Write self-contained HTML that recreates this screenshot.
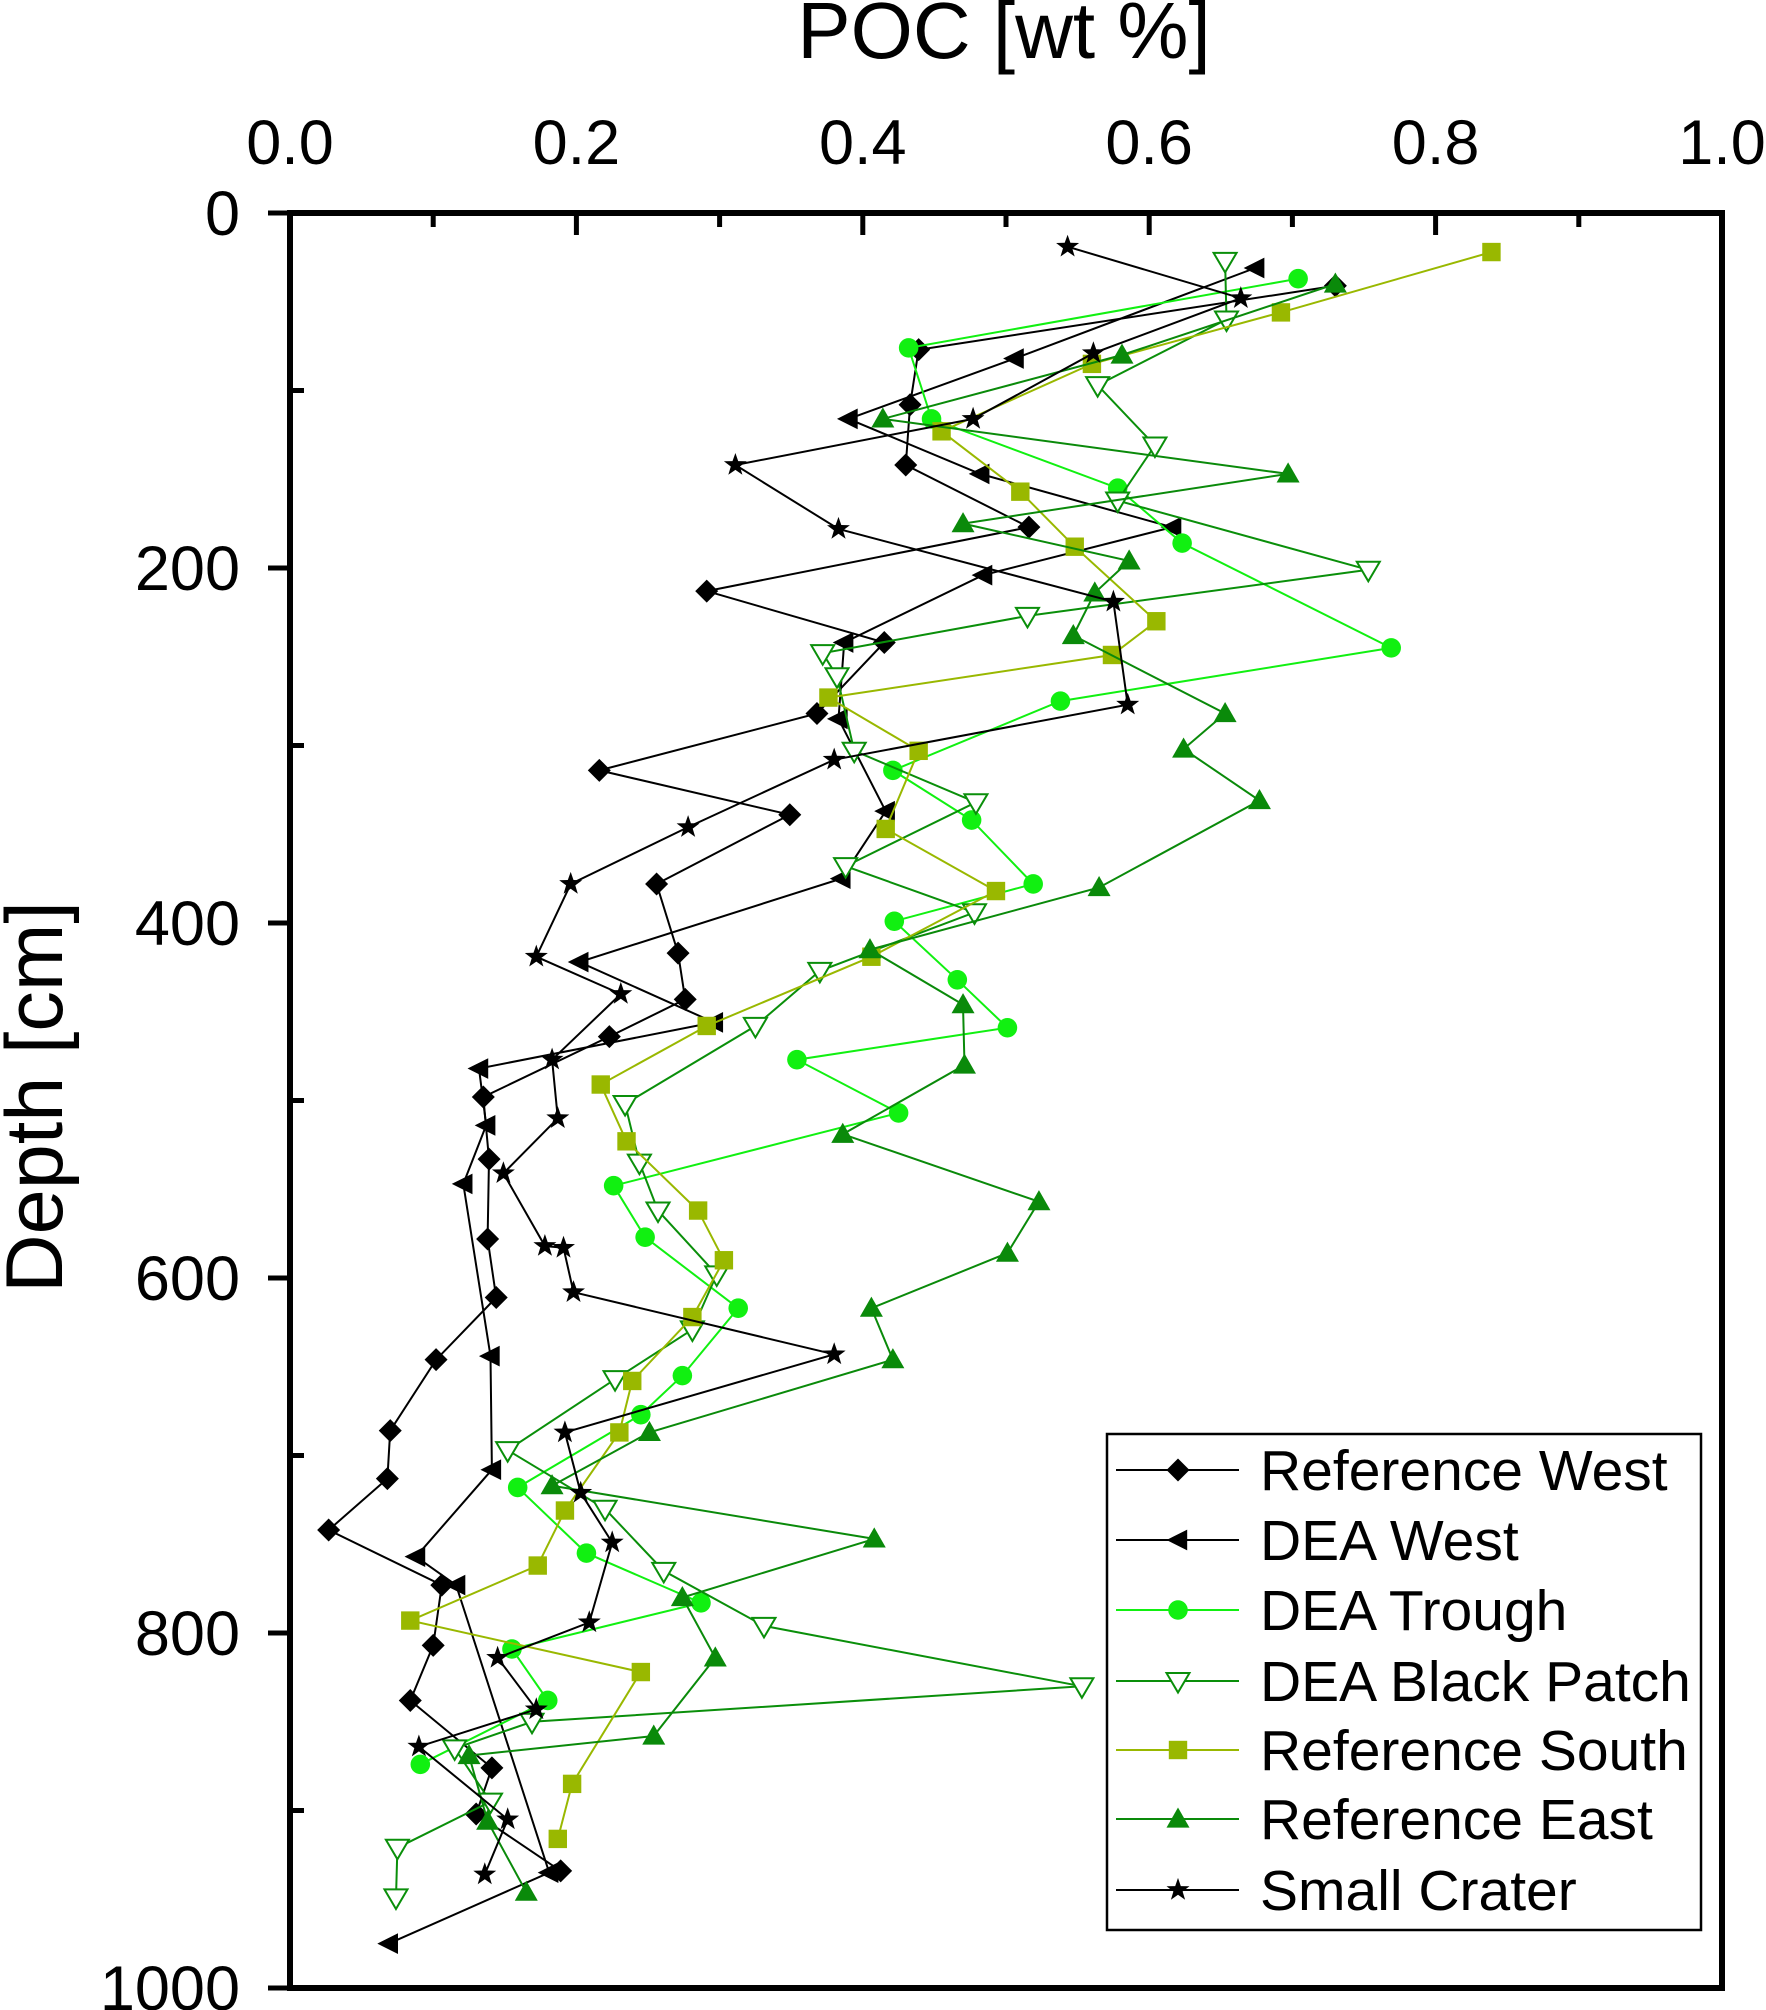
<!DOCTYPE html>
<html><head><meta charset="utf-8"><style>
html,body{margin:0;padding:0;background:#fff;}
svg{display:block;font-family:"Liberation Sans",Arial,sans-serif;}
</style></head><body>
<svg id="chart" width="1766" height="2010" viewBox="0 0 1766 2010" xmlns="http://www.w3.org/2000/svg">
<g id="axes"></g>
<g id="series"></g>
<g id="legend"></g>
<text x="1004" y="58" font-size="80" text-anchor="middle">POC [wt %]</text>
<text transform="translate(62,1097) rotate(-90)" font-size="81" text-anchor="middle">Depth [cm]</text>
</svg>
<script>
const xTicks=[0,0.2,0.4,0.6,0.8,1.0];
const xTickLabels=["0.0","0.2","0.4","0.6","0.8","1.0"];
const yTicks=[0,200,400,600,800,1000];
const yTickLabels=["0","200","400","600","800","1000"];
const seriesNames=["Reference West","DEA West","DEA Trough","DEA Black Patch","Reference South","Reference East","Small Crater"];
const refWestX=[0.730,0.439,0.433,0.430,0.516,0.291,0.415,0.368,0.216,0.349,0.256,0.271,0.276,0.223,0.135,0.139,0.138,0.144,0.102,0.070,0.068,0.027,0.106,0.100,0.084,0.141,0.130,0.189];
const refWestY=[41,77,108,142,177,213,242,282,314,339,378,417,443,464,498,533,578,611,646,686,713,742,773,807,838,876,902,934];
const deaWestX=[0.674,0.506,0.390,0.482,0.616,0.484,0.387,0.383,0.416,0.385,0.202,0.296,0.132,0.137,0.121,0.140,0.141,0.088,0.116,0.181,0.069];
const deaWestY=[31,82,116,147,177,204,242,285,337,375,422,456,482,514,547,644,708,757,773,935,975];
const troughX=[0.704,0.432,0.448,0.578,0.623,0.769,0.538,0.421,0.476,0.519,0.422,0.466,0.501,0.354,0.425,0.226,0.248,0.313,0.274,0.245,0.159,0.207,0.287,0.155,0.180,0.091];
const troughY=[37,76,116,155,186,245,275,314,342,378,399,432,459,477,507,548,577,617,655,677,718,755,783,809,838,874];
const blackPatchX=[0.653,0.654,0.564,0.604,0.578,0.753,0.515,0.372,0.382,0.394,0.479,0.388,0.478,0.370,0.325,0.234,0.244,0.257,0.298,0.281,0.227,0.152,0.220,0.261,0.331,0.553,0.169,0.115,0.140,0.075,0.074];
const blackPatchY=[27,60,97,131,162,201,227,248,261,303,332,368,394,427,458,502,535,562,598,629,657,697,730,765,796,830,850,865,895,921,949];
const refSouthX=[0.839,0.692,0.560,0.455,0.510,0.548,0.605,0.574,0.376,0.439,0.416,0.493,0.406,0.291,0.217,0.235,0.285,0.303,0.281,0.239,0.230,0.192,0.173,0.084,0.245,0.197,0.187];
const refSouthY=[22,56,85,123,157,188,230,249,273,303,347,382,419,458,491,523,562,590,622,658,687,731,762,793,822,885,916];
const refEastX=[0.730,0.581,0.414,0.697,0.470,0.586,0.562,0.547,0.653,0.624,0.677,0.565,0.405,0.470,0.471,0.386,0.523,0.501,0.406,0.421,0.251,0.183,0.408,0.274,0.297,0.254,0.125,0.138,0.165];
const refEastY=[40,80,116,147,175,196,214,238,282,302,331,380,415,446,480,519,557,586,617,646,687,717,747,780,814,858,869,906,946];
const craterX=[0.543,0.664,0.561,0.477,0.311,0.383,0.575,0.585,0.380,0.278,0.196,0.172,0.231,0.183,0.187,0.149,0.178,0.191,0.198,0.380,0.192,0.203,0.225,0.209,0.145,0.172,0.090,0.152,0.136];
const craterY=[19,48,79,116,142,178,219,277,308,346,378,419,440,477,510,541,582,583,608,643,687,721,749,794,814,843,864,905,936];

const L=290,R=1722,T=213,B=1988;
const xS=v=>L+v*(R-L);
const yS=v=>T+v/1000*(B-T);
const NS="http://www.w3.org/2000/svg";
function mk(tag,attrs,parent){const e=document.createElementNS(NS,tag);for(const k in attrs)e.setAttribute(k,attrs[k]);parent.appendChild(e);return e;}
const axes=document.getElementById('axes');
let box=mk('rect',{x:L,y:T,width:R-L,height:B-T,fill:'none',stroke:'#000','stroke-width':6},axes);


xTicks.forEach((v,i)=>{
  let t=mk('line',{x1:xS(v),x2:xS(v),y1:T,y2:T+22,stroke:'#000','stroke-width':5},axes);
  
  
  if(i<xTicks.length-1){let m=mk('line',{x1:xS(v+0.1),x2:xS(v+0.1),y1:T,y2:T+14,stroke:'#000','stroke-width':5},axes);
  
  }
  let tx=mk('text',{x:xS(v),y:164,'font-size':63,'text-anchor':'middle'},axes);tx.textContent=xTickLabels[i];
  
  
});
yTicks.forEach((v,i)=>{
  let t=mk('line',{x1:L-22,x2:L,y1:yS(v),y2:yS(v),stroke:'#000','stroke-width':5},axes);
  
  
  if(i<yTicks.length-1){let m=mk('line',{x1:L,x2:L+14,y1:yS(v+100),y2:yS(v+100),stroke:'#000','stroke-width':5},axes);
  
  }
  let tx=mk('text',{x:240,y:yS(v)+22,'font-size':63,'text-anchor':'end'},axes);tx.textContent=yTickLabels[i];
  
  
});
const s=11.5;
function marker(type,cx,cy,col,parent){
  let e;
  if(type==='diamond')e=mk('polygon',{points:`${cx},${cy-s} ${cx+s},${cy} ${cx},${cy+s} ${cx-s},${cy}`,fill:col},parent);
  else if(type==='left')e=mk('polygon',{points:`${cx-s},${cy} ${cx+s*0.8},${cy-s*0.9} ${cx+s*0.8},${cy+s*0.9}`,fill:col},parent);
  else if(type==='circle')e=mk('circle',{cx:cx,cy:cy,r:s*0.85,fill:col},parent);
  else if(type==='down')e=mk('polygon',{points:`${cx-s},${cy-s*0.7} ${cx+s},${cy-s*0.7} ${cx},${cy+s}`,fill:'#fff',stroke:col,'stroke-width':2},parent);
  else if(type==='square')e=mk('rect',{x:cx-s*0.8,y:cy-s*0.8,width:s*1.6,height:s*1.6,fill:col},parent);
  else if(type==='up')e=mk('polygon',{points:`${cx-s},${cy+s*0.75} ${cx+s},${cy+s*0.75} ${cx},${cy-s}`,fill:col},parent);
  else{let p=[];for(let k=0;k<10;k++){const r=k%2?s*0.42:s*1.05;const a=-Math.PI/2+k*Math.PI/5;p.push((cx+r*Math.cos(a)).toFixed(1)+','+(cy+r*Math.sin(a)).toFixed(1));}e=mk('polygon',{points:p.join(' '),fill:col},parent);}
  return e;
}
const defs=[
 [refWestX,refWestY,'#000','diamond','reference-west'],
 [deaWestX,deaWestY,'#000','left','dea-west'],
 [troughX,troughY,'#11f011','circle','dea-trough'],
 [blackPatchX,blackPatchY,'#0a8f0a','down','dea-black-patch'],
 [refSouthX,refSouthY,'#99b800','square','reference-south'],
 [refEastX,refEastY,'#0a8a0a','up','reference-east'],
 [craterX,craterY,'#000','star','small-crater']
];
const sg=document.getElementById('series');
defs.forEach(d=>{
  const g=mk('g',{},sg);
  
  
  const pts=d[0].map((x,i)=>xS(x).toFixed(1)+','+yS(d[1][i]).toFixed(1)).join(' ');
  const pl=mk('polyline',{points:pts,fill:'none',stroke:d[2],'stroke-width':2},g);
  
  
  d[0].forEach((x,i)=>{const m=marker(d[3],xS(x),yS(d[1][i]),d[2],g);
    
    });
});
const lg=document.getElementById('legend');
const lb=mk('rect',{x:1107,y:1434,width:594,height:496,fill:'#fff',stroke:'#000','stroke-width':2.5},lg);


const ly=[1470,1540,1610,1681,1750,1819,1890];
defs.forEach((d,i)=>{
  const g=mk('g',{},lg);
  
  
  mk('line',{x1:1116,x2:1239,y1:ly[i],y2:ly[i],stroke:d[2],'stroke-width':2},g);
  marker(d[3],1178,ly[i],d[2],g);
  const t=mk('text',{x:1260,y:ly[i]+20,'font-size':57},g);t.textContent=seriesNames[i];
});
</script>
</body></html>
